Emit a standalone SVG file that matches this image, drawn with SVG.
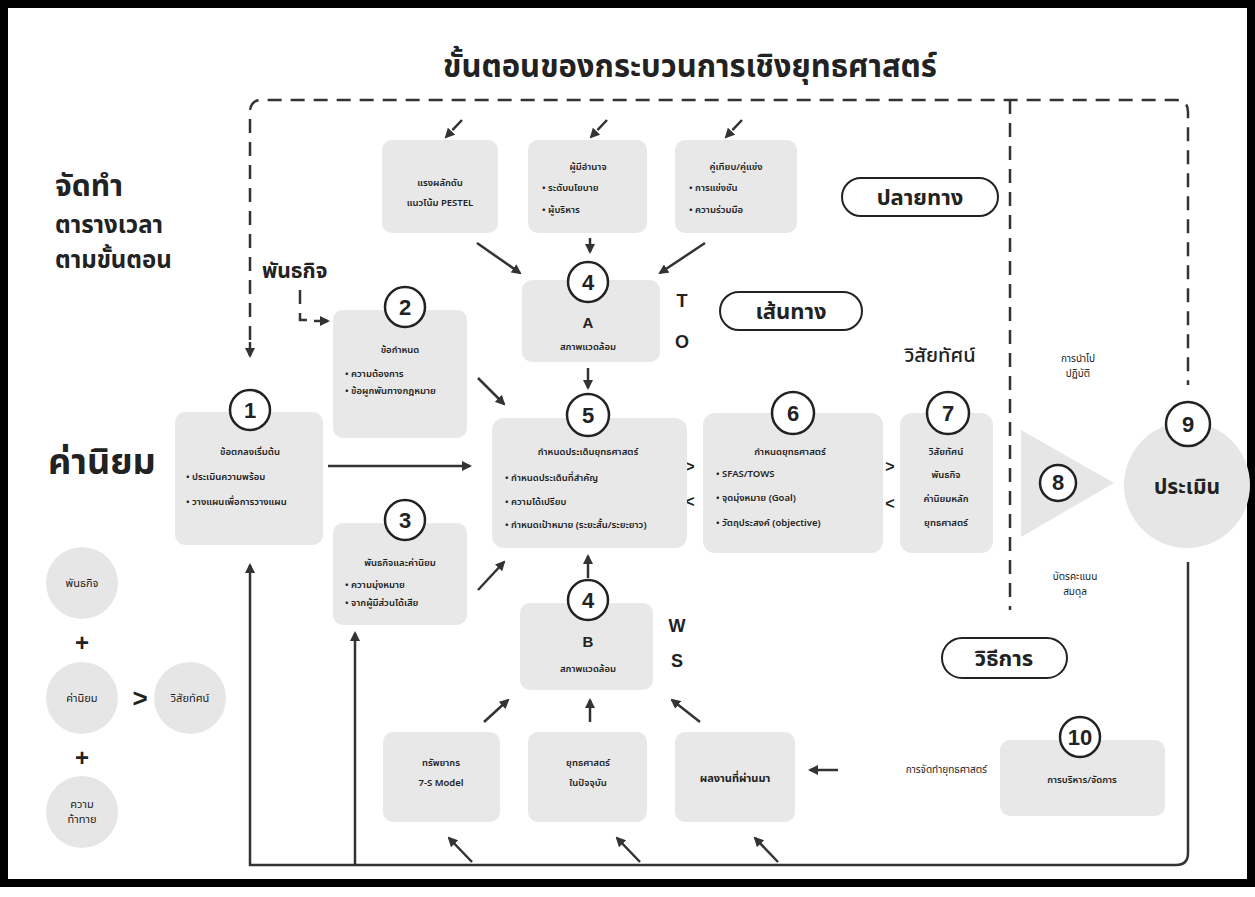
<svg xmlns="http://www.w3.org/2000/svg" width="1255" height="897" viewBox="0 0 1255 897">
<style>
.t{font-family:'Noto Sans Thai','Loma','Garuda','Noto Sans','DejaVu Sans',sans-serif;fill:#222}
.s{font-size:9.5px;font-weight:600}
.m{text-anchor:middle}
.box{fill:#e8e8e8}
.gc{fill:#e6e6e6}
.nc{fill:#fff;stroke:#222;stroke-width:2.5}
.num{font-family:'Liberation Sans',Arial,sans-serif;font-size:22px;font-weight:700;fill:#222;text-anchor:middle}
.ln{stroke:#333;stroke-width:2.5;fill:none}
.dash{stroke:#333;stroke-width:2.5;fill:none;stroke-dasharray:14 9}
.pill{fill:#fff;stroke:#222;stroke-width:2}
.big{font-weight:700}
.lt{font-family:'Liberation Sans',Arial,sans-serif;font-weight:700;fill:#222;text-anchor:middle}
</style>
<defs>
<marker id="ah" markerWidth="10" markerHeight="10" refX="8" refY="5" orient="auto" markerUnits="userSpaceOnUse"><path d="M0,0 L10,5 L0,10 z" fill="#333"/></marker>
</defs>
<rect x="4" y="4" width="1247" height="879" fill="#fff" stroke="#000" stroke-width="8"/>

<text class="t big m" x="690" y="77" font-size="31">ขั้นตอนของกระบวนการเชิงยุทธศาสตร์</text>

<g id="left-labels">
<text class="t big" x="55" y="196" font-size="30">จัดทำ</text>
<text class="t big" x="55" y="233" font-size="24">ตารางเวลา</text>
<text class="t big" x="55" y="268" font-size="24">ตามขั้นตอน</text>
<text class="t big" x="48" y="474" font-size="36">ค่านิยม</text>
<text class="t big" x="262" y="278" font-size="21">พันธกิจ</text>
</g>

<g id="connectors">
<path class="dash" d="M250,340 V112 Q250,100 262,100 H1176 Q1188,100 1188,112 V385"/>
<path class="ln" d="M250,342 V356" marker-end="url(#ah)"/>
<path class="dash" d="M1010,100 V610"/>
<path class="dash" d="M300,290 V320 H308" stroke-dasharray="7 6"/>
<path class="ln" d="M314,321 H328" marker-end="url(#ah)"/>
<path class="dash" d="M462,120 L446,137" stroke-dasharray="6 5" marker-end="url(#ah)"/>
<path class="dash" d="M607,120 L591,137" stroke-dasharray="6 5" marker-end="url(#ah)"/>
<path class="dash" d="M742,120 L726,137" stroke-dasharray="6 5" marker-end="url(#ah)"/>
<path class="ln" d="M590,238 V252" marker-end="url(#ah)"/>
<path class="ln" d="M477,243 L520,273" marker-end="url(#ah)"/>
<path class="ln" d="M705,243 L660,273" marker-end="url(#ah)"/>
<path class="ln" d="M588,368 V388" marker-end="url(#ah)"/>
<path class="ln" d="M478,378 L504,404" marker-end="url(#ah)"/>
<path class="ln" d="M478,590 L504,562" marker-end="url(#ah)"/>
<path class="ln" d="M328,466 H470" marker-end="url(#ah)"/>
<path class="ln" d="M588,578 V556" marker-end="url(#ah)"/>
<path class="ln" d="M484,722 L508,700" marker-end="url(#ah)"/>
<path class="ln" d="M590,722 V700" marker-end="url(#ah)"/>
<path class="ln" d="M700,722 L672,700" marker-end="url(#ah)"/>
<path class="ln" d="M838,770 H810" marker-end="url(#ah)"/>
<path class="ln" d="M1188,562 V853 Q1188,865 1176,865 H250 V565" marker-end="url(#ah)"/>
<path class="ln" d="M355,865 V633" marker-end="url(#ah)"/>
<path class="ln" d="M472,862 L449,838" marker-end="url(#ah)"/>
<path class="ln" d="M640,862 L617,838" marker-end="url(#ah)"/>
<path class="ln" d="M778,862 L755,838" marker-end="url(#ah)"/>
<text class="lt" x="690" y="472" font-size="16">&gt;</text>
<text class="lt" x="690" y="507" font-size="16">&lt;</text>
<text class="lt" x="890" y="472" font-size="16">&gt;</text>
<text class="lt" x="890" y="509" font-size="16">&lt;</text>
</g>

<g id="n-pestel">
<rect class="box" x="382" y="140" width="116" height="93" rx="10"/>
<text class="t s m" x="440" y="186">แรงผลักดัน</text>
<text class="t s m" x="440" y="206">แนวโน้ม PESTEL</text>
</g>
<g id="n-power">
<rect class="box" x="528" y="140" width="119" height="93" rx="10"/>
<text class="t s m" x="588" y="170">ผู้มีอำนาจ</text>
<text class="t s" x="542" y="191">•  ระดับนโยบาย</text>
<text class="t s" x="542" y="213">•  ผู้บริหาร</text>
</g>
<g id="n-competitor">
<rect class="box" x="675" y="140" width="122" height="93" rx="10"/>
<text class="t s m" x="736" y="170">คู่เทียบ/คู่แข่ง</text>
<text class="t s" x="689" y="191">•  การแข่งขัน</text>
<text class="t s" x="689" y="213">•  ความร่วมมือ</text>
</g>

<g id="n-4a">
<rect class="box" x="522" y="280" width="138" height="82" rx="10"/>
<circle class="nc" cx="588" cy="282" r="20"/>
<text class="num" x="588" y="290">4</text>
<text class="lt" x="588" y="328" font-size="15">A</text>
<text class="t s m" x="588" y="350">สภาพแวดล้อม</text>
<text class="lt" x="682" y="307" font-size="18">T</text>
<text class="lt" x="682" y="348" font-size="18">O</text>
</g>

<g id="n-pill-1">
<rect class="pill" x="842" y="178" width="156" height="38" rx="19"/>
<text class="t big m" x="920" y="205" font-size="22">ปลายทาง</text>
</g>
<g id="n-pill-2">
<rect class="pill" x="720" y="292" width="142" height="38" rx="19"/>
<text class="t big m" x="791" y="319" font-size="22">เส้นทาง</text>
</g>
<g id="n-pill-3">
<rect class="pill" x="942" y="638" width="125" height="40" rx="20"/>
<text class="t big m" x="1004" y="666" font-size="22">วิธีการ</text>
</g>

<g id="n-1">
<rect class="box" x="175" y="412" width="148" height="133" rx="10"/>
<circle class="nc" cx="250" cy="410" r="20"/>
<text class="num" x="250" y="418">1</text>
<text class="t s m" x="250" y="455">ข้อตกลงเริ่มต้น</text>
<text class="t s" x="186" y="480">•  ประเมินความพร้อม</text>
<text class="t s" x="186" y="505">•  วางแผนเพื่อการวางแผน</text>
</g>

<g id="n-2">
<rect class="box" x="333" y="310" width="134" height="128" rx="10"/>
<circle class="nc" cx="405" cy="307" r="20"/>
<text class="num" x="405" y="315">2</text>
<text class="t s m" x="400" y="353">ข้อกำหนด</text>
<text class="t s" x="345" y="377">•  ความต้องการ</text>
<text class="t s" x="345" y="394">•  ข้อผูกพันทางกฎหมาย</text>
</g>

<g id="n-3">
<rect class="box" x="333" y="523" width="134" height="102" rx="10"/>
<circle class="nc" cx="405" cy="520" r="20"/>
<text class="num" x="405" y="528">3</text>
<text class="t s m" x="400" y="566">พันธกิจและค่านิยม</text>
<text class="t s" x="345" y="588">•  ความมุ่งหมาย</text>
<text class="t s" x="345" y="606">•  จากผู้มีส่วนได้เสีย</text>
</g>

<g id="n-5">
<rect class="box" x="492" y="418" width="195" height="130" rx="12"/>
<circle class="nc" cx="588" cy="415" r="21"/>
<text class="num" x="588" y="423">5</text>
<text class="t s m" x="588" y="455">กำหนดประเด็นยุทธศาสตร์</text>
<text class="t s" x="505" y="481">•  กำหนดประเด็นที่สำคัญ</text>
<text class="t s" x="505" y="505">•  ความได้เปรียบ</text>
<text class="t s" x="505" y="528">•  กำหนดเป้าหมาย (ระยะสั้น/ระยะยาว)</text>
</g>

<g id="n-4b">
<rect class="box" x="520" y="603" width="133" height="87" rx="10"/>
<circle class="nc" cx="588" cy="600" r="20"/>
<text class="num" x="588" y="608">4</text>
<text class="lt" x="588" y="647" font-size="15">B</text>
<text class="t s m" x="588" y="672">สภาพแวดล้อม</text>
<text class="lt" x="677" y="632" font-size="18">W</text>
<text class="lt" x="677" y="667" font-size="18">S</text>
</g>

<g id="n-6">
<rect class="box" x="703" y="413" width="180" height="140" rx="12"/>
<circle class="nc" cx="793" cy="413" r="21"/>
<text class="num" x="793" y="421">6</text>
<text class="t s m" x="790" y="455">กำหนดยุทธศาสตร์</text>
<text class="t s" x="716" y="477">•  SFAS/TOWS</text>
<text class="t s" x="716" y="501">•  จุดมุ่งหมาย (Goal)</text>
<text class="t s" x="716" y="526">•  วัตถุประสงค์ (objective)</text>
</g>

<g id="n-7">
<rect class="box" x="900" y="413" width="93" height="140" rx="12"/>
<circle class="nc" cx="948" cy="413" r="21"/>
<text class="num" x="948" y="421">7</text>
<text class="t s m" x="946" y="455">วิสัยทัศน์</text>
<text class="t s m" x="946" y="478">พันธกิจ</text>
<text class="t s m" x="946" y="502">ค่านิยมหลัก</text>
<text class="t s m" x="946" y="526">ยุทธศาสตร์</text>
<text class="t m" x="940" y="362" font-size="20" font-weight="500">วิสัยทัศน์</text>
</g>

<g id="n-8">
<polygon class="gc" points="1021,430 1114,483 1021,537"/>
<circle class="nc" cx="1058" cy="483" r="18"/>
<text class="num" x="1058" y="490" font-size="19">8</text>
<text class="t m" x="1078" y="362" font-size="10">การนำไป</text>
<text class="t m" x="1078" y="377" font-size="10">ปฏิบัติ</text>
<text class="t m" x="1075" y="580" font-size="10">บัตรคะแนน</text>
<text class="t m" x="1075" y="595" font-size="10">สมดุล</text>
</g>

<g id="n-9">
<circle class="gc" cx="1187" cy="485" r="63"/>
<circle class="nc" cx="1188" cy="424" r="22"/>
<text class="num" x="1188" y="432">9</text>
<text class="t big m" x="1187" y="494" font-size="21">ประเมิน</text>
</g>

<g id="n-10">
<rect class="box" x="1000" y="740" width="165" height="76" rx="10"/>
<circle class="nc" cx="1080" cy="737" r="20"/>
<text class="num" x="1080" y="745" font-size="20">10</text>
<text class="t s m" x="1082" y="783">การบริหาร/จัดการ</text>
<text class="t" x="987" y="773" font-size="10" text-anchor="end">การจัดทำยุทธศาสตร์</text>
</g>

<g id="n-res">
<rect class="box" x="383" y="732" width="117" height="90" rx="10"/>
<text class="t s m" x="441" y="766">ทรัพยากร</text>
<text class="t s m" x="441" y="786">7-S Model</text>
</g>
<g id="n-cur">
<rect class="box" x="528" y="732" width="119" height="90" rx="10"/>
<text class="t s m" x="588" y="766">ยุทธศาสตร์</text>
<text class="t s m" x="588" y="786">ในปัจจุบัน</text>
</g>
<g id="n-past">
<rect class="box" x="675" y="732" width="120" height="90" rx="10"/>
<text class="t m" x="735" y="782" font-size="11" font-weight="700">ผลงานที่ผ่านมา</text>
</g>

<g id="n-mission">
<circle class="gc" cx="82" cy="583" r="36"/>
<text class="t m" x="82" y="587" font-size="11">พันธกิจ</text>
<text class="lt" x="82" y="651" font-size="24">+</text>
</g>
<g id="n-values">
<circle class="gc" cx="82" cy="698" r="36"/>
<text class="t m" x="82" y="702" font-size="11">ค่านิยม</text>
<text class="lt" x="140" y="707" font-size="26">&gt;</text>
<text class="lt" x="82" y="766" font-size="24">+</text>
</g>
<g id="n-vision">
<circle class="gc" cx="190" cy="698" r="36"/>
<text class="t m" x="190" y="702" font-size="11">วิสัยทัศน์</text>
</g>
<g id="n-challenge">
<circle class="gc" cx="82" cy="812" r="36"/>
<text class="t m" x="82" y="808" font-size="11">ความ</text>
<text class="t m" x="82" y="823" font-size="11">ท้าทาย</text>
</g>
</svg>
